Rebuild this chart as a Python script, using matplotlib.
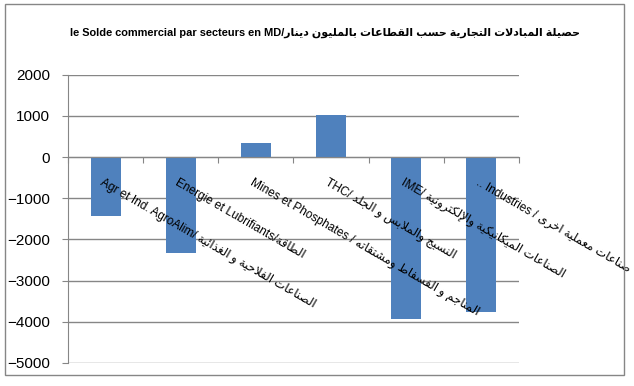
# -*- coding: utf-8 -*-
"""
Solde commercial par secteurs (MD) - bar chart, style Excel
"""

import matplotlib
matplotlib.use("Agg")
import matplotlib.pyplot as plt
from matplotlib.patches import Rectangle

# =========================================================
# DONNEES
# =========================================================

labels_fr = ["Agr et Ind. AgroAlim/ ",
             "Energie et Lubrifiants/",
             "Mines et Phosphates / ",
             "THC/ ",
             "IME/ ",
             ".. Industries / "]
labels_ar = ["الصناعات الفلاحية و الغذائية",
             "الطاقة",
             "المناجم و الفسفاط ومشتقاته",
             "النسيج والملابس و الجلد",
             "الصناعات الميكانيكية والإلكترونية",
             "صناعات معملية اخرى"]
solde = [-1430, -2320, 340, 1020, -3920, -3750]
yticks = [-5000, -4000, -3000, -2000, -1000, 0, 1000, 2000]

title_fr = "le Solde commercial par secteurs en MD/"
title_ar = "حصيلة المبادلات التجارية حسب القطاعات بالمليون دينار"

# =========================================================
# MISE EN FORME DE L'ARABE (pas de shaping dans matplotlib)
# =========================================================

# lettre -> (premier code des formes de presentation, nombre de formes)
FORMS = {
    "\u0621": (0xFE80, 1), "\u0622": (0xFE81, 2), "\u0623": (0xFE83, 2),
    "\u0624": (0xFE85, 2), "\u0625": (0xFE87, 2), "\u0626": (0xFE89, 4),
    "\u0627": (0xFE8D, 2), "\u0628": (0xFE8F, 4), "\u0629": (0xFE93, 2),
    "\u062A": (0xFE95, 4), "\u062B": (0xFE99, 4), "\u062C": (0xFE9D, 4),
    "\u062D": (0xFEA1, 4), "\u062E": (0xFEA5, 4), "\u062F": (0xFEA9, 2),
    "\u0630": (0xFEAB, 2), "\u0631": (0xFEAD, 2), "\u0632": (0xFEAF, 2),
    "\u0633": (0xFEB1, 4), "\u0634": (0xFEB5, 4), "\u0635": (0xFEB9, 4),
    "\u0636": (0xFEBD, 4), "\u0637": (0xFEC1, 4), "\u0638": (0xFEC5, 4),
    "\u0639": (0xFEC9, 4), "\u063A": (0xFECD, 4), "\u0641": (0xFED1, 4),
    "\u0642": (0xFED5, 4), "\u0643": (0xFED9, 4), "\u0644": (0xFEDD, 4),
    "\u0645": (0xFEE1, 4), "\u0646": (0xFEE5, 4), "\u0647": (0xFEE9, 4),
    "\u0648": (0xFEED, 2), "\u0649": (0xFEEF, 2), "\u064A": (0xFEF1, 4),
    # lam-alef
    "L\u0622": (0xFEF5, 2), "L\u0623": (0xFEF7, 2),
    "L\u0625": (0xFEF9, 2), "L\u0627": (0xFEFB, 2),
}


def arabe(s):
    toks = []
    i = 0
    while i < len(s):
        if s[i] == "\u0644" and i + 1 < len(s) and ("L" + s[i + 1]) in FORMS:
            toks.append("L" + s[i + 1])
            i += 2
        else:
            toks.append(s[i])
            i += 1
    out = []
    for k, t in enumerate(toks):
        if t not in FORMS:
            out.append(t)
            continue
        base, n = FORMS[t]
        jp = k > 0 and toks[k - 1] in FORMS and FORMS[toks[k - 1]][1] == 4 and n > 1
        jn = (n == 4 and k + 1 < len(toks) and toks[k + 1] in FORMS
              and FORMS[toks[k + 1]][1] > 1)
        if jp and jn:
            off = 3
        elif jp:
            off = 1
        elif jn:
            off = 2
        else:
            off = 0
        out.append(chr(base + off))
    return "".join(out)[::-1]


FAM = ["Liberation Sans", "DejaVu Sans"]
GRIS = "#868686"

# =========================================================
# FIGURE
# =========================================================

fig = plt.figure(figsize=(6.34, 3.86), dpi=100)
ax = fig.add_axes([0.1073, 0.0596, 0.711, 0.747])

x = list(range(len(solde)))
ax.bar(x, solde, width=0.4, color="#4F81BD", zorder=3)

ax.set_xlim(-0.5, 5.5)
ax.set_ylim(-5000, 2000)
ax.set_yticks(yticks)
ax.yaxis.grid(True, color=GRIS, linewidth=1)
ax.set_axisbelow(True)

for s in ["top", "right"]:
    ax.spines[s].set_visible(False)
ax.spines["left"].set_color(GRIS)
ax.spines["bottom"].set_color(GRIS)
ax.spines["bottom"].set_position(("data", 0))
ax.spines["bottom"].set_zorder(4)

ax.set_xticks([k - 0.5 for k in range(len(solde) + 1)])
ax.set_xticklabels([])
ax.tick_params(axis="x", direction="out", length=4, color=GRIS)
ax.tick_params(axis="y", direction="out", length=4, color=GRIS, pad=9,
               labelsize=11)
for t in ax.get_yticklabels():
    t.set_fontfamily(FAM)

# etiquettes des categories, inclinees
for k in x:
    ax.text(k - 0.02, -480, labels_fr[k] + arabe(labels_ar[k]),
            rotation=-30, rotation_mode="anchor", ha="left", va="top",
            fontsize=8.6, family=FAM, zorder=5)

fig.text(0.513, 0.915, title_fr + arabe(title_ar), ha="center", va="center",
         fontsize=7.95, fontweight="bold", family=FAM)

# cadre du graphique
fig.patches.append(Rectangle((0.0079, 0.0285), 0.976, 0.961,
                             transform=fig.transFigure, fill=False,
                             edgecolor=GRIS, linewidth=1))

fig.savefig("out.png", dpi=100)
